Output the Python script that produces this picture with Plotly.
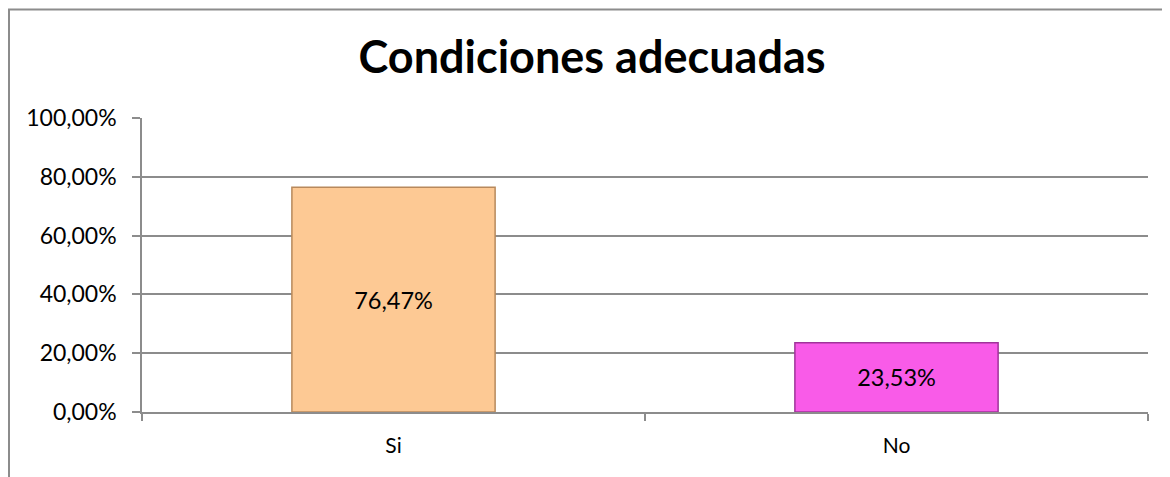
import plotly.graph_objects as go

categories = ["Si", "No"]
values = [0.7647, 0.2353]
bar_colors = ["#FDC994", "#F95BE8"]
edge_colors = ["#B8895C", "#A0339A"]
title_text = "Condiciones adecuadas"

FONT = "Lato, Open Sans, sans-serif"

fig = go.Figure()
fig.add_trace(go.Bar(
    x=categories, y=values,
    marker=dict(color=bar_colors, line=dict(color=edge_colors, width=1.5)),
    width=0.404,
    texttemplate="%{y:.2%}",
    textposition="inside", insidetextanchor="middle",
    textfont=dict(family=FONT, size=23.5, color="black"),
    showlegend=False,
))

fig.update_layout(
    width=1162, height=469,
    margin=dict(l=134, r=22, t=110, b=65),
    paper_bgcolor="white", plot_bgcolor="white",
    separators=",.",
    font=dict(family=FONT, size=21, color="black"),
    title=dict(text="<b>" + title_text + "</b>", x=0.5026, xanchor="center",
               y=0.8955, yanchor="middle",
               font=dict(size=45, family=FONT, color="black")),
    xaxis=dict(showline=True, linecolor="#8C8C8C", linewidth=1.5,
               ticks="outside", ticklen=7, tickcolor="#8C8C8C", tickwidth=1.5,
               tickson="boundaries", showgrid=False,
               tickfont=dict(size=21), ticklabelstandoff=14),
    yaxis=dict(range=[0, 1], tickvals=[0, 0.2, 0.4, 0.6, 0.8, 1.0], tickformat=".2%",
               showline=True, linecolor="#8C8C8C", linewidth=1.5,
               ticks="outside", ticklen=8, tickcolor="#8C8C8C", tickwidth=1.5,
               showgrid=True, gridcolor="#8C8C8C", gridwidth=1.5,
               zeroline=False, tickfont=dict(size=23), ticklabelstandoff=11),
    shapes=[dict(type="rect", xref="paper", yref="paper",
                 x0=-0.1322, x1=1.05, y0=-0.3, y1=1.3690,
                 line=dict(color="#8C8C8C", width=2), layer="below")],
)

fig.write_html("out.html")
